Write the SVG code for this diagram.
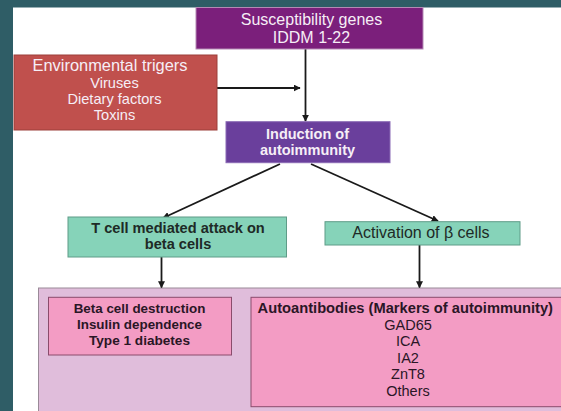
<svg xmlns="http://www.w3.org/2000/svg" width="561" height="411" viewBox="0 0 561 411">
<style>
text{font-family:"Liberation Sans",Arial,sans-serif;text-anchor:middle}
.conn{stroke:#1a1a1a;stroke-width:1.8;fill:none}
.w{fill:#f6eef6}
.b{font-weight:bold}
.d{fill:#2a1626}
.t{fill:#1e2a26}
</style>
<defs>
<marker id="ah" viewBox="0 0 10 10" refX="9" refY="5" markerWidth="7" markerHeight="7" markerUnits="userSpaceOnUse" orient="auto">
<path d="M0,0 L10,5 L0,10 z" fill="#1a1a1a"/>
</marker>
</defs>
<rect x="0" y="0" width="561" height="411" fill="#2f5d66"/>
<rect x="13" y="7.5" width="548" height="403.5" fill="#ffffff"/>
<g id="panel">
<rect x="38.5" y="288" width="530" height="130" fill="#e0bddb" stroke="#9a8a98" stroke-width="1"/>
</g>
<g id="connectors">
<path class="conn" d="M217,88 H300" marker-end="url(#ah)"/>
<path class="conn" d="M305.5,49 V121" marker-end="url(#ah)"/>
<path class="conn" d="M280,164 L163,218" marker-end="url(#ah)"/>
<path class="conn" d="M311,164 L438,221" marker-end="url(#ah)"/>
<path class="conn" d="M161.5,257 V287.5" marker-end="url(#ah)"/>
<path class="conn" d="M419.5,245 V287.5" marker-end="url(#ah)"/>
</g>
<g id="genes">
<rect x="196" y="7.5" width="227" height="41.5" fill="#7b1f7b" stroke="#b58ab5" stroke-width="1"/>
<text class="w" x="311.5" y="25" font-size="16">Susceptibility genes</text>
<text class="w" x="311.5" y="43" font-size="16">IDDM 1-22</text>
</g>
<g id="env">
<rect x="14" y="55" width="203" height="75" fill="#c0504d" stroke="#9c3e3b" stroke-width="1"/>
<text class="w" x="110" y="71" font-size="16.4">Environmental trigers</text>
<text class="w" x="114.5" y="88" font-size="14.6">Viruses</text>
<text class="w" x="114.5" y="104" font-size="14.6">Dietary factors</text>
<text class="w" x="114.5" y="120" font-size="14.6">Toxins</text>
</g>
<g id="induction">
<rect x="226" y="121.7" width="164" height="41" fill="#6a3f9c" stroke="#8a6ab5" stroke-width="1"/>
<text class="w b" x="307.5" y="139" font-size="14.5">Induction of</text>
<text class="w b" x="307.5" y="155" font-size="14.5">autoimmunity</text>
</g>
<g id="tcell">
<rect x="68" y="217" width="218.5" height="40" fill="#86d3b9" stroke="#5f9c88" stroke-width="1"/>
<text class="t b" x="178" y="233.3" font-size="14.6">T cell mediated attack on</text>
<text class="t b" x="178" y="249.3" font-size="14.6">beta cells</text>
</g>
<g id="activation">
<rect x="325" y="221.7" width="195" height="23.3" fill="#86d3b9" stroke="#5f9c88" stroke-width="1"/>
<text class="t" x="421" y="237.7" font-size="16">Activation of β cells</text>
</g>
<g id="destruction">
<rect x="48.5" y="297.3" width="183" height="57.7" fill="#f39cc4" stroke="#8a4c6c" stroke-width="1"/>
<text class="d b" x="139.5" y="313.3" font-size="13.4">Beta cell destruction</text>
<text class="d b" x="139.5" y="329.3" font-size="13.4">Insulin dependence</text>
<text class="d b" x="139.5" y="345.3" font-size="13.6">Type 1 diabetes</text>
</g>
<g id="autoantibodies">
<rect x="251" y="297.3" width="320" height="109.4" fill="#f39cc4" stroke="#8a4c6c" stroke-width="1"/>
<text class="d b" x="405.3" y="313.3" font-size="14.7">Autoantibodies (Markers of autoimmunity)</text>
<text class="d" x="408" y="329.5" font-size="14.5">GAD65</text>
<text class="d" x="408" y="346" font-size="14.5">ICA</text>
<text class="d" x="408" y="362.5" font-size="14.5">IA2</text>
<text class="d" x="408" y="379" font-size="14.5">ZnT8</text>
<text class="d" x="408" y="395.5" font-size="14.5">Others</text>
</g>
</svg>
